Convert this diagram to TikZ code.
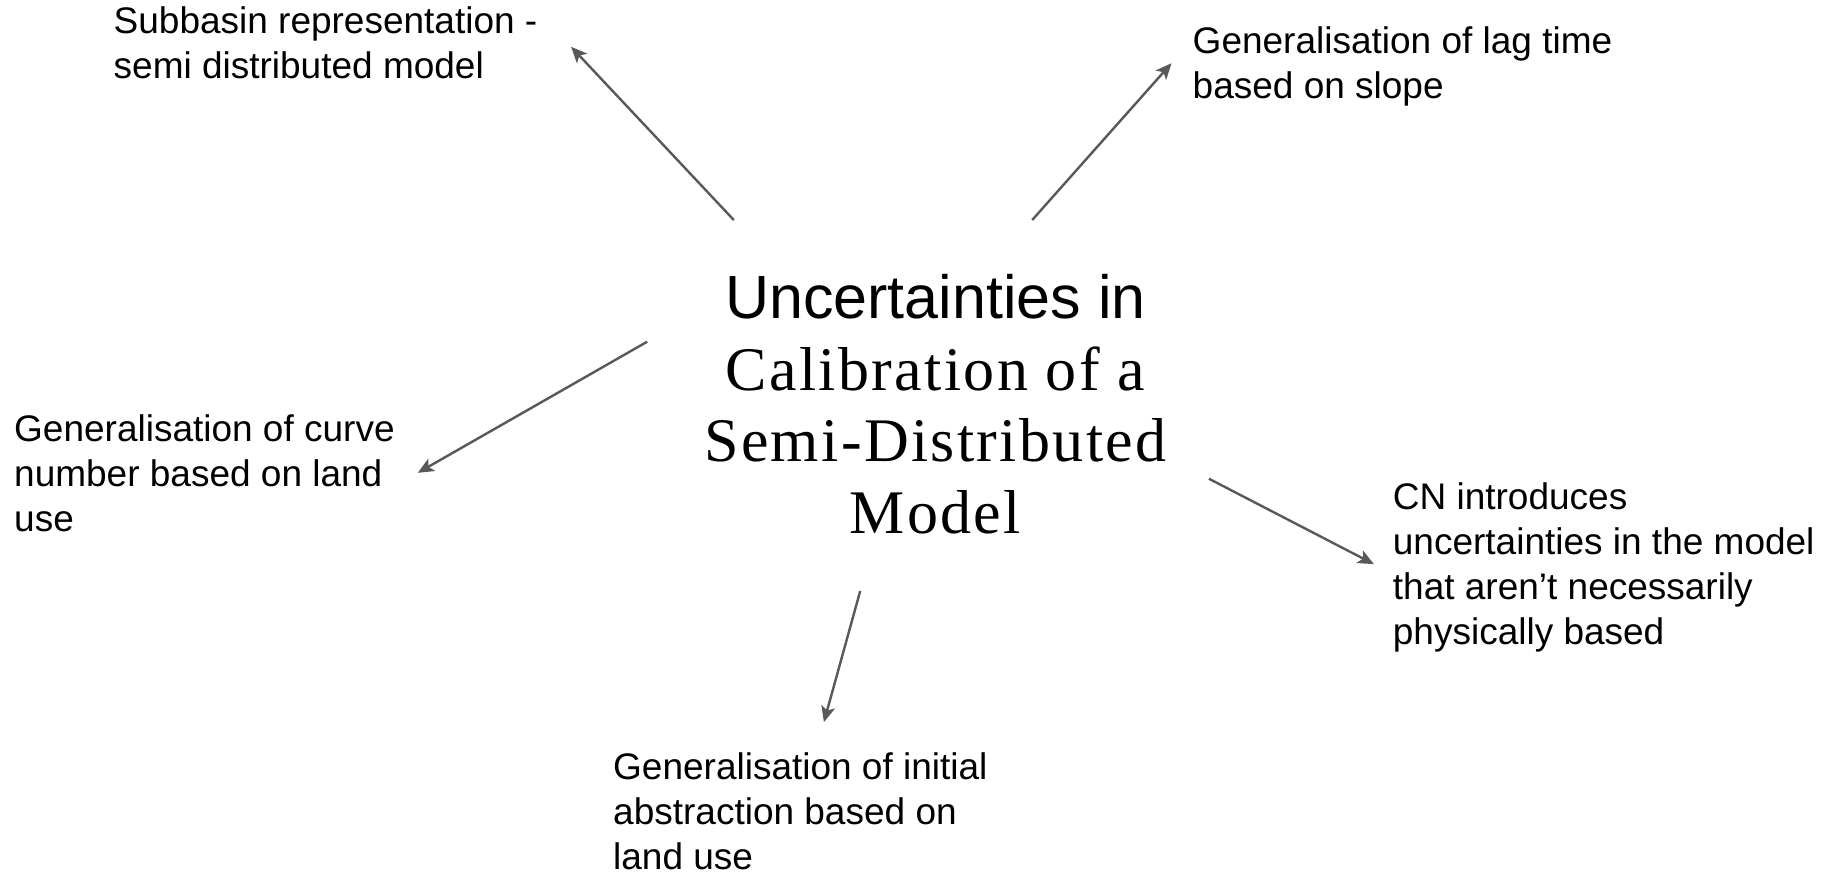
\documentclass[tikz,border=0pt]{standalone}
\usepackage{fontspec}
\setmainfont{Liberation Sans}
\newfontfamily\titleserif[LetterSpace=3.8]{Liberation Serif}
\usetikzlibrary{arrows.meta}
\definecolor{arrowgray}{RGB}{89,89,89}

\begin{document}
\begin{tikzpicture}[x=1pt,y=-1pt,
  note/.style={anchor=north west,inner sep=0pt,align=left,font=\fontsize{37}{45}\selectfont},
  hubtext/.style={anchor=north,inner sep=0pt,align=center,font=\fontsize{62}{71.5}\selectfont},
  link/.style={draw=arrowgray,line width=2.4pt,-{Stealth[length=16pt,width=14pt,inset=4pt]}}]
\fill[white] (0,0) rectangle (1835,871);
\useasboundingbox (0,0) rectangle (1835,871);

% central topic
\node[hubtext] (hub) at (935.5,274.5) {{\fontsize{61}{71.5}\selectfont Uncertainties in}\\{\titleserif Calibration of a}\\{\titleserif Semi-Distributed}\\{\titleserif Model}};

% the five sources of uncertainty
\node[note] (subbasin) at (113.5,6) {Subbasin representation -\\semi distributed model};
\node[note] (lagtime) at (1192.5,26) {Generalisation of lag time\\based on slope};
\node[note] (curvenum) at (14,414) {Generalisation of curve\\number based on land\\use};
\node[note] (cnnote) at (1392.7,482) {CN introduces\\uncertainties in the model\\that aren’t necessarily\\physically based};
\node[note] (initabs) at (613,752) {Generalisation of initial\\abstraction based on\\land use};

% arrow ends
\coordinate (subbasinTail) at (733.8,220);
\coordinate (subbasinTip) at (571.1,46.8);
\coordinate (lagtimeTail) at (1032.2,220);
\coordinate (lagtimeTip) at (1171.5,63.2);
\coordinate (curvenumTail) at (647.2,341.7);
\coordinate (curvenumTip) at (417.8,472.8);
\coordinate (cnnoteTail) at (1208.9,478.7);
\coordinate (cnnoteTip) at (1373.9,564.1);
\coordinate (initabsTail) at (860.2,591);
\coordinate (initabsTip) at (823.9,722.1);

\draw[link] (subbasinTail) -- (subbasinTip);
\draw[link] (lagtimeTail) -- (lagtimeTip);
\draw[link] (curvenumTail) -- (curvenumTip);
\draw[link] (cnnoteTail) -- (cnnoteTip);
\draw[link] (initabsTail) -- (initabsTip);
\end{tikzpicture}
\end{document}
